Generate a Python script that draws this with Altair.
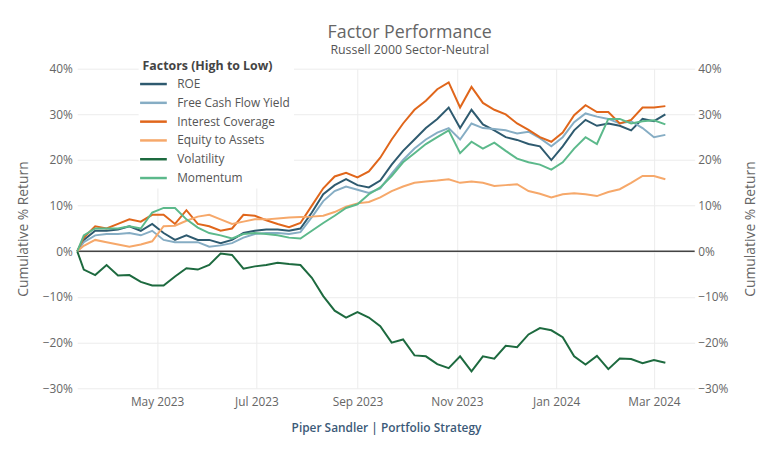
import altair as alt
import pandas as pd

dates = ["2023-03-13", "2023-03-17", "2023-03-24", "2023-03-31", "2023-04-07", "2023-04-14",
         "2023-04-21", "2023-04-28", "2023-05-05", "2023-05-12", "2023-05-19", "2023-05-26",
         "2023-06-02", "2023-06-09", "2023-06-16", "2023-06-23", "2023-06-30", "2023-07-07",
         "2023-07-14", "2023-07-21", "2023-07-28", "2023-08-04", "2023-08-11", "2023-08-18",
         "2023-08-25", "2023-09-01", "2023-09-08", "2023-09-15", "2023-09-22", "2023-09-29",
         "2023-10-06", "2023-10-13", "2023-10-20", "2023-10-27", "2023-11-03", "2023-11-10",
         "2023-11-17", "2023-11-24", "2023-12-01", "2023-12-08", "2023-12-15", "2023-12-22",
         "2023-12-29", "2024-01-05", "2024-01-12", "2024-01-19", "2024-01-26", "2024-02-02",
         "2024-02-09", "2024-02-16", "2024-02-23", "2024-03-01", "2024-03-08"]

roe = [0, 2.5, 4.5, 4.5, 4.8, 5.5, 4.5, 6.0, 4.0, 2.5, 3.5, 2.5, 2.5, 1.8, 2.5, 4.0, 4.5, 4.8,
       4.8, 4.5, 5.0, 8.5, 12.5, 14.5, 15.8, 14.5, 14.0, 15.5, 19.0, 22.0, 24.5, 27.0, 29.0, 31.5,
       27.0, 31.0, 27.8, 26.5, 25.0, 24.4, 23.5, 23.0, 20.0, 23.0, 26.5, 28.8, 27.5, 28.0, 27.5,
       26.5, 29.0, 28.5, 30.0]
fcf = [0, 2.0, 3.5, 3.8, 3.8, 4.0, 3.5, 4.5, 2.5, 2.0, 2.0, 2.0, 1.0, 1.3, 1.8, 3.0, 3.8, 4.0,
       4.0, 3.8, 4.2, 7.5, 11.0, 13.2, 14.2, 13.5, 12.8, 13.8, 17.0, 20.0, 22.5, 24.5, 26.0, 27.0,
       24.5, 28.0, 27.0, 26.8, 26.5, 25.8, 26.2, 24.8, 23.0, 25.0, 28.3, 30.2, 29.5, 29.0, 28.0,
       28.5, 27.0, 25.0, 25.5]
icov = [0, 3.0, 5.5, 5.0, 6.0, 7.0, 6.5, 8.0, 8.0, 6.0, 9.0, 6.0, 5.5, 4.5, 5.0, 8.0, 7.8, 6.8,
        6.0, 5.3, 6.2, 10.0, 13.8, 16.4, 17.2, 16.2, 17.5, 20.5, 24.5, 28.0, 31.0, 33.0, 35.5,
        37.0, 31.5, 36.0, 32.5, 31.0, 30.0, 28.0, 26.6, 25.0, 24.0, 26.0, 29.8, 32.0, 30.5, 30.5,
        28.0, 28.8, 31.5, 31.5, 31.8]
eta = [0, 1.2, 2.5, 2.0, 1.5, 1.0, 1.5, 2.2, 5.5, 5.6, 6.7, 7.6, 8.0, 7.0, 6.0, 6.5, 7.0, 7.0,
       7.2, 7.4, 7.5, 7.6, 7.8, 8.6, 9.8, 10.5, 10.8, 11.8, 13.2, 14.2, 15.0, 15.3, 15.5, 15.8,
       15.0, 15.3, 15.0, 14.3, 14.5, 14.7, 13.2, 12.6, 11.8, 12.5, 12.7, 12.5, 12.1, 13.0, 13.6,
       15.0, 16.5, 16.5, 15.8]
vol = [0, -4.0, -5.2, -3.0, -5.3, -5.2, -6.7, -7.5, -7.5, -5.5, -3.7, -4.0, -3.0, -0.5, -0.8,
       -3.8, -3.3, -3.0, -2.5, -2.8, -3.0, -5.8, -9.8, -13.0, -14.5, -13.3, -14.5, -16.4, -20.0,
       -19.3, -22.8, -23.0, -24.7, -25.6, -23.0, -26.3, -23.0, -23.5, -20.7, -21.0, -18.2, -16.8,
       -17.3, -18.8, -23.0, -24.8, -22.9, -25.8, -23.5, -23.6, -24.5, -23.8, -24.4]
mom = [0, 3.5, 5.0, 5.0, 5.0, 5.5, 5.0, 8.5, 9.5, 9.5, 7.0, 5.2, 4.0, 3.5, 2.8, 3.8, 4.0, 3.8,
       3.5, 3.0, 2.8, 4.5, 6.2, 7.8, 9.5, 10.3, 12.5, 14.0, 16.5, 19.5, 21.5, 23.5, 25.0, 26.5,
       21.5, 24.0, 22.5, 23.8, 22.0, 20.3, 19.5, 19.0, 17.9, 19.5, 22.5, 25.0, 23.5, 29.0, 29.0,
       28.0, 28.5, 28.7, 27.8]

factors = ["ROE", "Free Cash Flow Yield", "Interest Coverage", "Equity to Assets",
           "Volatility", "Momentum"]
colors = ["#2e5a6f", "#86adc4", "#e0661b", "#f6a86a", "#1d6a3f", "#5cb98b"]

rows = []
for name, vals in zip(factors, [roe, fcf, icov, eta, vol, mom]):
    for d, v in zip(dates, vals):
        rows.append({"date": d, "factor": name, "ret": v / 100.0})
df = pd.DataFrame(rows)

FONT = "Open Sans"
yscale = alt.Scale(domain=[-0.3, 0.4], nice=False, zero=False)
xscale = alt.Scale(type="utc", domain=[alt.DateTime(year=2023, month="Mar", date=13, utc=True),
                                       alt.DateTime(year=2024, month="Mar", date=26, utc=True)])
tick_vals = [alt.DateTime(year=2023, month="May", date=1, utc=True),
             alt.DateTime(year=2023, month="Jul", date=1, utc=True),
             alt.DateTime(year=2023, month="Sep", date=1, utc=True),
             alt.DateTime(year=2023, month="Nov", date=1, utc=True),
             alt.DateTime(year=2024, month="Jan", date=1, utc=True),
             alt.DateTime(year=2024, month="Mar", date=1, utc=True)]

yaxis_common = dict(format=".0%", values=[-0.3, -0.2, -0.1, 0, 0.1, 0.2, 0.3, 0.4],
                    ticks=False, domain=False, labelFont=FONT, labelFontSize=12,
                    labelColor="#666", title="Cumulative % Return", titleFont=FONT,
                    titleFontSize=14, titleFontWeight="normal", titleColor="#666")

zero = alt.Chart(pd.DataFrame({"v": [0]})).mark_rule(color="#444", strokeWidth=1.6).encode(
    y=alt.Y("v:Q", scale=yscale,
            axis=alt.Axis(orient="right", grid=False, labelPadding=3, titlePadding=30,
                          titleAngle=270, **yaxis_common))
)

lines = alt.Chart(df).mark_line(strokeWidth=2).encode(
    x=alt.X("date:T", scale=xscale,
            axis=alt.Axis(values=tick_vals, format="%b %Y", ticks=False, domain=False,
                          grid=True, gridColor="#ececec", labelFont=FONT, labelFontSize=12,
                          labelColor="#666", labelPadding=8,
                          title="Piper Sandler  |  Portfolio Strategy", titleFont=FONT,
                          titleFontSize=12, titleFontWeight=600, titleColor="#3b5a78",
                          titlePadding=16)),
    y=alt.Y("ret:Q", scale=yscale,
            axis=alt.Axis(orient="left", grid=True, gridColor="#ececec", labelPadding=5,
                          titlePadding=12, **yaxis_common)),
    color=alt.Color("factor:N", scale=alt.Scale(domain=factors, range=colors),
                    legend=alt.Legend(title="Factors (High to Low)", orient="none",
                                      legendX=62, legendY=-13, padding=4,
                                      fillColor="white", titleFont=FONT, titleFontSize=12.5,
                                      titleFontWeight="bold", titleColor="#444",
                                      titlePadding=1, labelFont=FONT, labelFontSize=12,
                                      labelColor="#555", symbolType="M-1.4,0H1.4",
                                      symbolStrokeWidth=2.5, symbolSize=372,
                                      symbolFillColor="transparent",
                                      rowPadding=2, labelOffset=13)),
)

chart = alt.layer(zero, lines).resolve_scale(y="independent").properties(
    width=624, height=323,
    padding={"left": 70, "top": 59, "right": 64, "bottom": 58},
    autosize=alt.AutoSizeParams(type="none"),
    title=alt.TitleParams("Factor Performance", subtitle="Russell 2000 Sector-Neutral",
                          font=FONT, fontSize=18, fontWeight="normal", color="#666",
                          subtitleFont=FONT, subtitleFontSize=12.5, subtitleColor="#555",
                          anchor="middle", dx=24, offset=-1, subtitlePadding=3),
).configure_view(stroke=None)

chart.save("out.html", embed_options={"renderer": "svg", "actions": False})
